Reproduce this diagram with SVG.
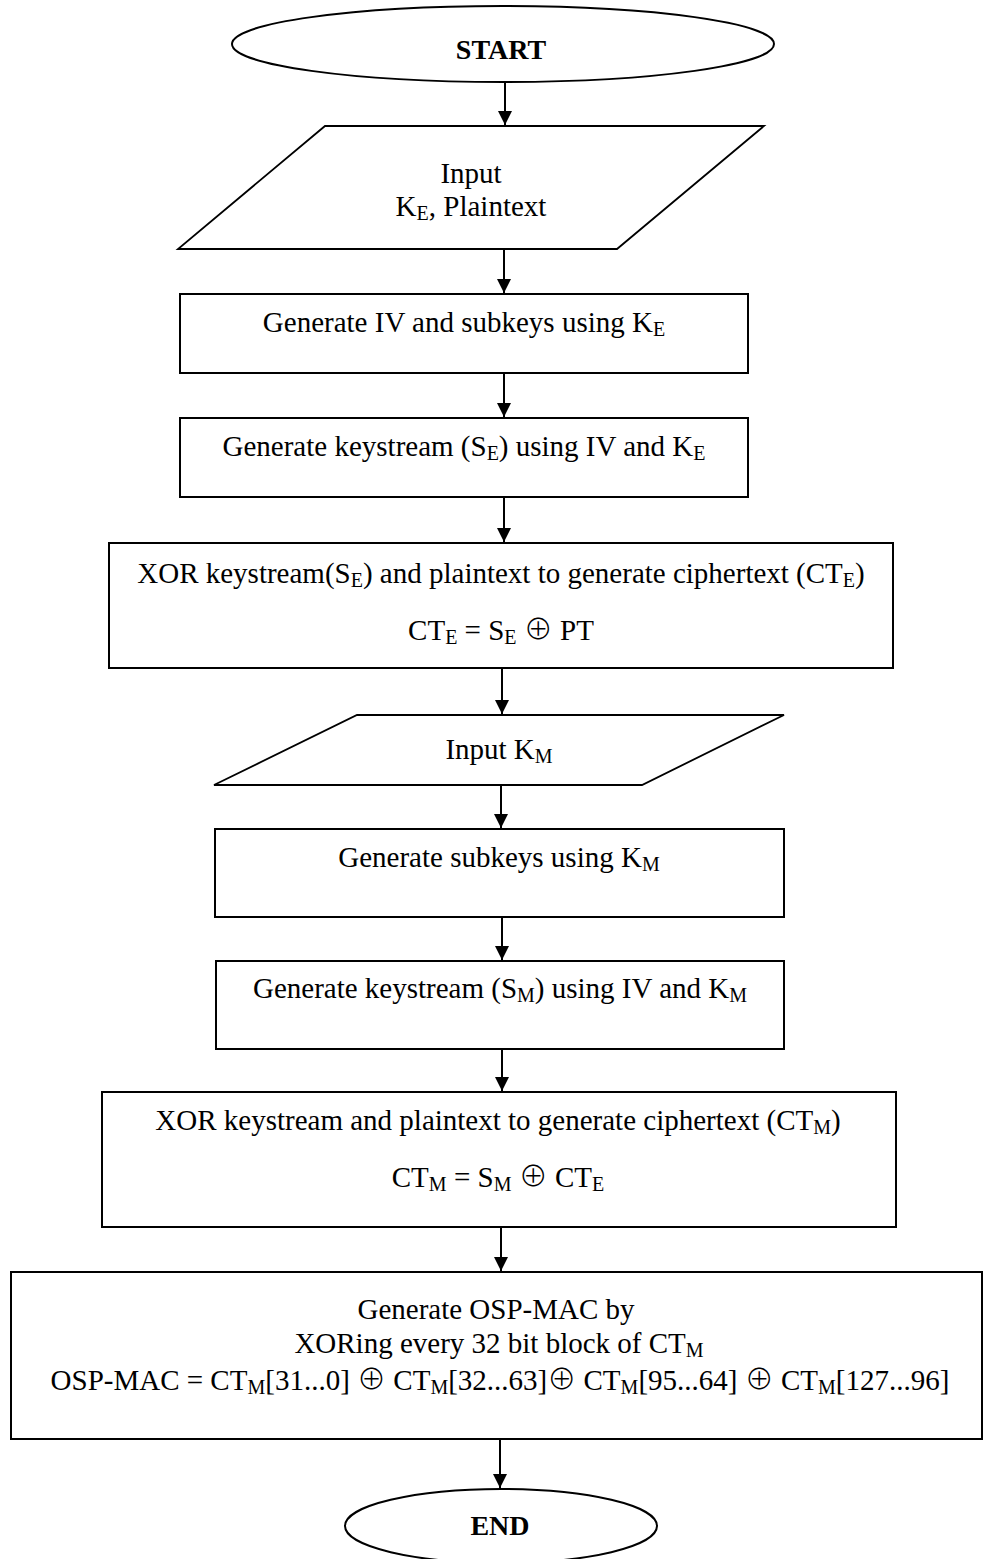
<svg xmlns="http://www.w3.org/2000/svg" width="983" height="1559" viewBox="0 0 983 1559">
  <style>
    .shape { fill: #ffffff; stroke: #000000; stroke-width: 2; }
    .para { fill: #ffffff; stroke: #000000; stroke-width: 1.8; stroke-linejoin: miter; }
    .lbl { font-family: "Liberation Serif", "Times New Roman", "DejaVu Serif", serif; font-size: 29px; fill: #000000; text-anchor: middle; }
    .term { font-family: "Liberation Serif", "Times New Roman", "DejaVu Serif", serif; font-size: 28px; font-weight: bold; fill: #000000; text-anchor: middle; }
    .sub { font-size: 20px; }
    .op { font-family: "Noto Sans CJK JP", "DejaVu Serif", serif; font-weight: 300; }
    .flow { stroke: #000000; stroke-width: 2; fill: none; marker-end: url(#arrow); }
  </style>
  <defs>
    <marker id="arrow" viewBox="0 0 14 14" refX="14" refY="7" markerWidth="14" markerHeight="14" orient="auto" markerUnits="userSpaceOnUse">
      <path d="M0,0 L14,7 L0,14 Z" fill="#000000"/>
    </marker>
  </defs>

  <rect width="983" height="1559" fill="#ffffff"/>

  <!-- connectors -->
  <g id="connectors">
    <line class="flow" x1="505" y1="82" x2="505" y2="125"/>
    <line class="flow" x1="504" y1="249" x2="504" y2="293"/>
    <line class="flow" x1="504" y1="373" x2="504" y2="417"/>
    <line class="flow" x1="504" y1="497" x2="504" y2="542"/>
    <line class="flow" x1="502" y1="668" x2="502" y2="714"/>
    <line class="flow" x1="501" y1="785" x2="501" y2="828"/>
    <line class="flow" x1="502" y1="917" x2="502" y2="960"/>
    <line class="flow" x1="502" y1="1049" x2="502" y2="1091"/>
    <line class="flow" x1="501" y1="1227" x2="501" y2="1271"/>
    <line class="flow" x1="500" y1="1439" x2="500" y2="1488"/>
  </g>

  <g id="start">
    <ellipse class="shape" cx="503" cy="44" rx="271" ry="38"/>
    <text class="term" x="501" y="59">START</text>
  </g>

  <g id="input-ke">
    <polygon class="para" points="325,126 764,126 617,249 178,249"/>
    <text class="lbl" x="471" y="183">Input</text>
    <text class="lbl" x="471" y="216">K<tspan class="sub" dy="4">E</tspan><tspan dy="-4">, Plaintext</tspan></text>
  </g>

  <g id="gen-iv">
    <rect class="shape" x="180" y="294" width="568" height="79"/>
    <text class="lbl" x="464" y="332">Generate IV and subkeys using K<tspan class="sub" dy="4">E</tspan></text>
  </g>

  <g id="gen-se">
    <rect class="shape" x="180" y="418" width="568" height="79"/>
    <text class="lbl" x="464" y="456">Generate keystream (S<tspan class="sub" dy="4">E</tspan><tspan dy="-4">) using IV and K</tspan><tspan class="sub" dy="4">E</tspan></text>
  </g>

  <g id="xor-e">
    <rect class="shape" x="109" y="543" width="784" height="125"/>
    <text class="lbl" x="501" y="583">XOR keystream(S<tspan class="sub" dy="4">E</tspan><tspan dy="-4">) and plaintext to generate ciphertext (CT</tspan><tspan class="sub" dy="4">E</tspan><tspan dy="-4">)</tspan></text>
    <text class="lbl" x="501" y="640">CT<tspan class="sub" dy="4">E</tspan><tspan dy="-4"> = S</tspan><tspan class="sub" dy="4">E</tspan><tspan dy="-4"> </tspan><tspan class="op">⊕</tspan><tspan> PT</tspan></text>
  </g>

  <g id="input-km">
    <polygon class="para" points="357,715 784,715 642,785 214,785"/>
    <text class="lbl" x="499" y="759">Input K<tspan class="sub" dy="4">M</tspan></text>
  </g>

  <g id="gen-subkeys">
    <rect class="shape" x="215" y="829" width="569" height="88"/>
    <text class="lbl" x="499" y="867">Generate subkeys using K<tspan class="sub" dy="4">M</tspan></text>
  </g>

  <g id="gen-sm">
    <rect class="shape" x="216" y="961" width="568" height="88"/>
    <text class="lbl" x="500" y="998">Generate keystream (S<tspan class="sub" dy="4">M</tspan><tspan dy="-4">) using IV and K</tspan><tspan class="sub" dy="4">M</tspan></text>
  </g>

  <g id="xor-m">
    <rect class="shape" x="102" y="1092" width="794" height="135"/>
    <text class="lbl" x="498" y="1130">XOR keystream and plaintext to generate ciphertext (CT<tspan class="sub" dy="4">M</tspan><tspan dy="-4">)</tspan></text>
    <text class="lbl" x="498" y="1187">CT<tspan class="sub" dy="4">M</tspan><tspan dy="-4"> = S</tspan><tspan class="sub" dy="4">M</tspan><tspan dy="-4"> </tspan><tspan class="op">⊕</tspan><tspan> CT</tspan><tspan class="sub" dy="4">E</tspan></text>
  </g>

  <g id="osp-mac">
    <rect class="shape" x="11" y="1272" width="971" height="167"/>
    <text class="lbl" x="496" y="1319">Generate OSP-MAC by</text>
    <text class="lbl" x="499" y="1353">XORing every 32 bit block of CT<tspan class="sub" dy="4">M</tspan></text>
    <text class="lbl" x="500" y="1390">OSP-MAC = CT<tspan class="sub" dy="4">M</tspan><tspan dy="-4">[31...0] </tspan><tspan class="op">⊕</tspan><tspan> CT</tspan><tspan class="sub" dy="4">M</tspan><tspan dy="-4">[32...63]</tspan><tspan class="op">⊕</tspan><tspan> CT</tspan><tspan class="sub" dy="4">M</tspan><tspan dy="-4">[95...64] </tspan><tspan class="op">⊕</tspan><tspan> CT</tspan><tspan class="sub" dy="4">M</tspan><tspan dy="-4">[127...96]</tspan></text>
  </g>

  <g id="end">
    <ellipse class="shape" cx="501" cy="1526" rx="156" ry="37"/>
    <text class="term" x="500" y="1535">END</text>
  </g>
</svg>
